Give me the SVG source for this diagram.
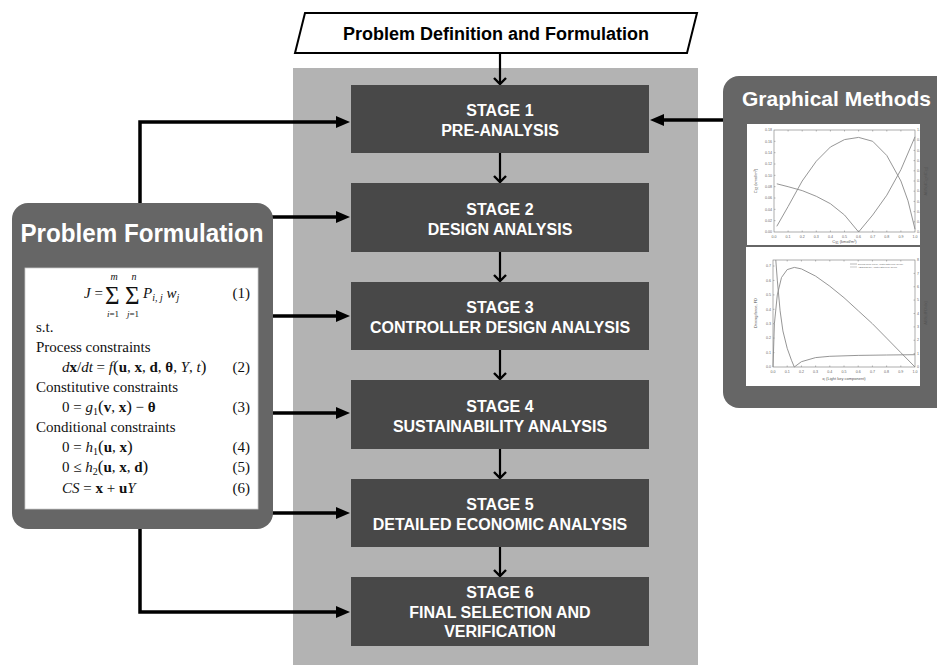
<svg xmlns="http://www.w3.org/2000/svg" width="937" height="665" viewBox="0 0 937 665">
<style>
.stg{fill:#484848}
.st{font-family:"Liberation Sans",Arial,sans-serif;font-weight:bold;font-size:16px;fill:#fff;text-anchor:middle}
.ttl{font-family:"Liberation Sans",Arial,sans-serif;font-weight:bold;fill:#fff}
.m{font-family:"Liberation Serif","Times New Roman",serif;font-size:15px;fill:#111}
.i{font-style:italic}
.b{font-weight:bold}
.conn{stroke:#000;stroke-width:3.5;fill:none}
.vconn{stroke:#000;stroke-width:2.2;fill:none}
.tk{font-family:"Liberation Sans",Arial,sans-serif;font-size:3.6px;fill:#666}
.ax{font-family:"Liberation Sans",Arial,sans-serif;font-size:4px;fill:#555}
.cv{fill:none;stroke:#8a8a8a;stroke-width:0.9}
.fr{fill:none;stroke:#777;stroke-width:0.6}
</style>
<defs>
<marker id="tri" markerUnits="userSpaceOnUse" markerWidth="14" markerHeight="12" refX="4" refY="6" orient="auto">
<path d="M0,0 L14,6 L0,12 z" fill="#000"/>
</marker>
<marker id="chev" markerUnits="userSpaceOnUse" markerWidth="14" markerHeight="14" refX="7" refY="7" orient="auto">
<path d="M1,1 L7,7 L1,13" fill="none" stroke="#000" stroke-width="2.4"/>
</marker>
</defs>
<rect width="937" height="665" fill="#fff"/>
<rect id="bg" x="293" y="68" width="405" height="597" fill="#b3b3b3"/>

<g id="connectors">
<path class="vconn" d="M500,54 V84" marker-end="url(#chev)"/>
<path class="vconn" d="M500,153 V182" marker-end="url(#chev)"/>
<path class="vconn" d="M500,252 V281" marker-end="url(#chev)"/>
<path class="vconn" d="M500,350 V379" marker-end="url(#chev)"/>
<path class="vconn" d="M500,449 V478" marker-end="url(#chev)"/>
<path class="vconn" d="M500,547 V576" marker-end="url(#chev)"/>
<path class="conn" d="M140,204 V122 H340" marker-end="url(#tri)"/>
<path class="conn" d="M272,217 H340" marker-end="url(#tri)"/>
<path class="conn" d="M272,316 H340" marker-end="url(#tri)"/>
<path class="conn" d="M272,413 H340" marker-end="url(#tri)"/>
<path class="conn" d="M272,513 H340" marker-end="url(#tri)"/>
<path class="conn" d="M140,528 V612 H340" marker-end="url(#tri)"/>
<path class="conn" d="M724,120 H660" marker-end="url(#tri)"/>
</g>

<g id="problem-definition">
<polygon points="305,13 697,13 687,53 295,53" fill="#fff" stroke="#000" stroke-width="2"/>
<text x="496" y="40" font-family="Liberation Sans,Arial,sans-serif" font-weight="bold" font-size="18" text-anchor="middle" fill="#000">Problem Definition and Formulation</text>
</g>

<g id="stage1"><rect class="stg" x="351" y="85" width="298" height="68"/>
<text class="st" x="500" y="116">STAGE 1</text><text class="st" x="500" y="136">PRE-ANALYSIS</text></g>
<g id="stage2"><rect class="stg" x="351" y="183" width="298" height="69"/>
<text class="st" x="500" y="214.5">STAGE 2</text><text class="st" x="500" y="234.5">DESIGN ANALYSIS</text></g>
<g id="stage3"><rect class="stg" x="351" y="282" width="298" height="68"/>
<text class="st" x="500" y="313">STAGE 3</text><text class="st" x="500" y="333">CONTROLLER DESIGN ANALYSIS</text></g>
<g id="stage4"><rect class="stg" x="351" y="380" width="298" height="69"/>
<text class="st" x="500" y="411.5">STAGE 4</text><text class="st" x="500" y="431.5">SUSTAINABILITY ANALYSIS</text></g>
<g id="stage5"><rect class="stg" x="351" y="479" width="298" height="68"/>
<text class="st" x="500" y="510">STAGE 5</text><text class="st" x="500" y="530">DETAILED ECONOMIC ANALYSIS</text></g>
<g id="stage6"><rect class="stg" x="351" y="577" width="298" height="69"/>
<text class="st" x="500" y="597.5">STAGE 6</text><text class="st" x="500" y="617.5">FINAL SELECTION AND</text><text class="st" x="500" y="637">VERIFICATION</text></g>

<g id="problem-formulation">
<rect x="12" y="203" width="261" height="326" rx="16" fill="#666"/>
<text class="ttl" x="142" y="242" font-size="25" text-anchor="middle" textLength="243" lengthAdjust="spacingAndGlyphs">Problem Formulation</text>
<rect x="25" y="268" width="233" height="241" fill="#fff" stroke="#ccc" stroke-width="0.8"/>
<text class="m" x="84" y="298"><tspan class="i">J</tspan> =</text>
<text class="m" x="105" y="304" style="font-size:25px">Σ</text>
<text class="m" x="125" y="304" style="font-size:25px">Σ</text>
<text class="m i" x="114" y="279.5" text-anchor="middle" style="font-size:10px">m</text>
<text class="m i" x="134" y="279.5" text-anchor="middle" style="font-size:10px">n</text>
<text class="m" x="113" y="317" text-anchor="middle" style="font-size:9px"><tspan class="i">i</tspan>=1</text>
<text class="m" x="133" y="317" text-anchor="middle" style="font-size:9px"><tspan class="i">j</tspan>=1</text>
<text class="m" x="143" y="298"><tspan class="i">P</tspan><tspan class="i" font-size="10" dy="3">i, j</tspan><tspan class="i" dy="-3"> w</tspan><tspan class="i" font-size="10" dy="3">j</tspan></text>
<text class="m" x="250" y="298" text-anchor="end">(1)</text>
<text class="m" x="36" y="332">s.t.</text>
<text class="m" x="36" y="352">Process constraints</text>
<text class="m" x="62" y="372"><tspan class="i">d</tspan><tspan class="b">x</tspan>/<tspan class="i">dt</tspan> = <tspan class="i">f</tspan><tspan font-size="17">(</tspan><tspan class="b">u</tspan>, <tspan class="b">x</tspan>, <tspan class="b">d</tspan>, <tspan class="b">θ</tspan>, <tspan class="i">Y</tspan>, <tspan class="i">t</tspan><tspan font-size="17">)</tspan></text>
<text class="m" x="250" y="372" text-anchor="end">(2)</text>
<text class="m" x="36" y="392">Constitutive constraints</text>
<text class="m" x="62" y="412">0 = <tspan class="i">g</tspan><tspan font-size="10" dy="3">1</tspan><tspan font-size="17" dy="-3">(</tspan><tspan class="b">v</tspan>, <tspan class="b">x</tspan><tspan font-size="17">)</tspan> − <tspan class="b">θ</tspan></text>
<text class="m" x="250" y="412" text-anchor="end">(3)</text>
<text class="m" x="36" y="432">Conditional constraints</text>
<text class="m" x="62" y="452">0 = <tspan class="i">h</tspan><tspan font-size="10" dy="3">1</tspan><tspan font-size="17" dy="-3">(</tspan><tspan class="b">u</tspan>, <tspan class="b">x</tspan><tspan font-size="17">)</tspan></text>
<text class="m" x="250" y="452" text-anchor="end">(4)</text>
<text class="m" x="62" y="472">0 ≤ <tspan class="i">h</tspan><tspan font-size="10" dy="3">2</tspan><tspan font-size="17" dy="-3">(</tspan><tspan class="b">u</tspan>, <tspan class="b">x</tspan>, <tspan class="b">d</tspan><tspan font-size="17">)</tspan></text>
<text class="m" x="250" y="472" text-anchor="end">(5)</text>
<text class="m" x="62" y="493"><tspan class="i">CS</tspan> = <tspan class="b">x</tspan> + <tspan class="b">u</tspan><tspan class="i">Y</tspan></text>
<text class="m" x="250" y="493" text-anchor="end">(6)</text>
</g>

<g id="graphical-methods">
<rect x="723" y="76" width="240" height="332" rx="16" fill="#666"/>
<text class="ttl" x="742" y="106" font-size="21">Graphical Methods</text>
<rect x="747" y="124" width="173" height="121" fill="#fff"/>
<rect x="746" y="247" width="174" height="139" fill="#fff"/>
<!-- chart 1 -->
<rect class="fr" x="774" y="130" width="141" height="102"/>
<path stroke="#777" stroke-width="0.5" d="M774,220.67h1.5M774,209.33h1.5M774,198h1.5M774,186.67h1.5M774,175.33h1.5M774,164h1.5M774,152.67h1.5M774,141.33h1.5M915,221.8h-1.5M915,211.6h-1.5M915,201.4h-1.5M915,191.2h-1.5M915,181h-1.5M915,170.8h-1.5M915,160.6h-1.5M915,150.4h-1.5M915,140.2h-1.5M788.1,232v-1.5M802.2,232v-1.5M816.3,232v-1.5M830.4,232v-1.5M844.5,232v-1.5M858.6,232v-1.5M872.7,232v-1.5M886.8,232v-1.5M900.9,232v-1.5M788.1,130v1.5M802.2,130v1.5M816.3,130v1.5M830.4,130v1.5M844.5,130v1.5M858.6,130v1.5M872.7,130v1.5M886.8,130v1.5M900.9,130v1.5"/>
<g class="tk" text-anchor="end">
<text x="772" y="233.2">0.00</text><text x="772" y="221.9">0.02</text><text x="772" y="210.5">0.04</text><text x="772" y="199.2">0.06</text><text x="772" y="187.9">0.08</text><text x="772" y="176.5">0.10</text><text x="772" y="165.2">0.12</text><text x="772" y="153.9">0.14</text><text x="772" y="142.5">0.16</text><text x="772" y="131.2">0.18</text>
</g>
<g class="tk">
<text x="917" y="233.2">0.0</text><text x="917" y="223">0.1</text><text x="917" y="212.8">0.2</text><text x="917" y="202.6">0.3</text><text x="917" y="192.4">0.4</text><text x="917" y="182.2">0.5</text><text x="917" y="172">0.6</text><text x="917" y="161.8">0.7</text><text x="917" y="151.6">0.8</text><text x="917" y="141.4">0.9</text><text x="917" y="131.2">1.0</text>
</g>
<g class="tk" text-anchor="middle">
<text x="774" y="237.5">0.0</text><text x="788.1" y="237.5">0.1</text><text x="802.2" y="237.5">0.2</text><text x="816.3" y="237.5">0.3</text><text x="830.4" y="237.5">0.4</text><text x="844.5" y="237.5">0.5</text><text x="858.6" y="237.5">0.6</text><text x="872.7" y="237.5">0.7</text><text x="886.8" y="237.5">0.8</text><text x="900.9" y="237.5">0.9</text><text x="915" y="237.5">1.0</text>
</g>
<text class="ax" x="844.5" y="243" text-anchor="middle">C<tspan font-size="2.8" dy="1">S1</tspan><tspan dy="-1"> (kmol/m³)</tspan></text>
<text class="ax" x="757" y="181" text-anchor="middle" transform="rotate(-90 757 181)">C<tspan font-size="2.8" dy="1">S2</tspan><tspan dy="-1"> (kmol/m³)</tspan></text>
<text class="ax" x="927" y="181" text-anchor="middle" transform="rotate(-90 927 181)">ABS(dC<tspan font-size="2.8" dy="1">S2</tspan><tspan dy="-1">/dC</tspan><tspan font-size="2.8" dy="1">S1</tspan><tspan dy="-1">)</tspan></text>
<polyline class="cv" points="776.8,226.3 788.1,206.5 802.2,181 816.3,161.2 830.4,147 844.5,139.6 858.6,137.4 872.7,141.3 886.8,155.5 900.9,181 908,200.8 915,229.2"/>
<polyline class="cv" points="776.8,183.8 788.1,186.7 802.2,190.6 816.3,196.3 830.4,203.7 844.5,215 858.6,232 872.7,215 886.8,195.2 900.9,169.7 915,136.8"/>
<!-- chart 2 -->
<rect class="fr" x="773" y="260" width="142" height="107"/>
<path stroke="#777" stroke-width="0.5" d="M773,352.6h1.5M773,338.1h1.5M773,323.7h1.5M773,309.3h1.5M773,294.9h1.5M773,280.4h1.5M773,266h1.5M915,353.6h-1.5M915,340.25h-1.5M915,326.9h-1.5M915,313.5h-1.5M915,300.1h-1.5M915,286.75h-1.5M915,273.4h-1.5M787.2,367v-1.5M801.4,367v-1.5M815.6,367v-1.5M829.8,367v-1.5M844,367v-1.5M858.2,367v-1.5M872.4,367v-1.5M886.6,367v-1.5M900.8,367v-1.5M787.2,260v1.5M801.4,260v1.5M815.6,260v1.5M829.8,260v1.5M844,260v1.5M858.2,260v1.5M872.4,260v1.5M886.6,260v1.5M900.8,260v1.5"/>
<g class="tk" text-anchor="end">
<text x="771" y="368.2">0.0</text><text x="771" y="353.8">0.1</text><text x="771" y="339.3">0.2</text><text x="771" y="324.9">0.3</text><text x="771" y="310.5">0.4</text><text x="771" y="296.1">0.5</text><text x="771" y="281.6">0.6</text><text x="771" y="267.2">0.7</text>
</g>
<g class="tk">
<text x="917" y="368.2">0</text><text x="917" y="354.8">1</text><text x="917" y="341.4">2</text><text x="917" y="328.1">3</text><text x="917" y="314.7">4</text><text x="917" y="301.3">5</text><text x="917" y="288">6</text><text x="917" y="274.6">7</text><text x="917" y="261.2">8</text>
</g>
<g class="tk" text-anchor="middle">
<text x="773" y="372.5">0.0</text><text x="787.2" y="372.5">0.1</text><text x="801.4" y="372.5">0.2</text><text x="815.6" y="372.5">0.3</text><text x="829.8" y="372.5">0.4</text><text x="844" y="372.5">0.5</text><text x="858.2" y="372.5">0.6</text><text x="872.4" y="372.5">0.7</text><text x="886.6" y="372.5">0.8</text><text x="900.8" y="372.5">0.9</text><text x="915" y="372.5">1.0</text>
</g>
<text class="ax" x="844" y="380" text-anchor="middle">x<tspan font-size="2.8" dy="1">l</tspan><tspan dy="-1"> (Light key component)</tspan></text>
<text class="ax" x="757" y="313" text-anchor="middle" transform="rotate(-90 757 313)">Driving force, FD</text>
<text class="ax" x="927" y="313" text-anchor="middle" transform="rotate(-90 927 313)">ABS(dFD/dx)</text>
<polyline class="cv" points="773,367 774.4,323.7 777.3,294.9 781.5,277.5 787.2,269.6 794.3,267.4 801.4,268.9 815.6,276.1 829.8,286.2 844,297.7 858.2,310.7 872.4,323.7 886.6,338.1 900.8,352.6 915,367"/>
<polyline class="cv" stroke="#a5a5a5" points="775.8,260 777.3,280.1 780.1,310.8 782.9,330.9 787.2,348.3 791.5,360.3 794.3,367 801.4,361.7 815.6,357.6 829.8,356.3 858.2,355.4 886.6,355 915,354.7"/>
<path stroke="#8a8a8a" stroke-width="0.6" d="M850,264H857"/>
<path stroke="#a5a5a5" stroke-width="0.6" d="M850,267H857"/>
<text class="tk" x="858" y="265" style="font-size:2.4px">Driving force curve, Water-Ethylene Glycol</text>
<text class="tk" x="858" y="268" style="font-size:2.4px">ABS(dFD/dx), Water-Ethylene Glycol</text>
</g>
</svg>
